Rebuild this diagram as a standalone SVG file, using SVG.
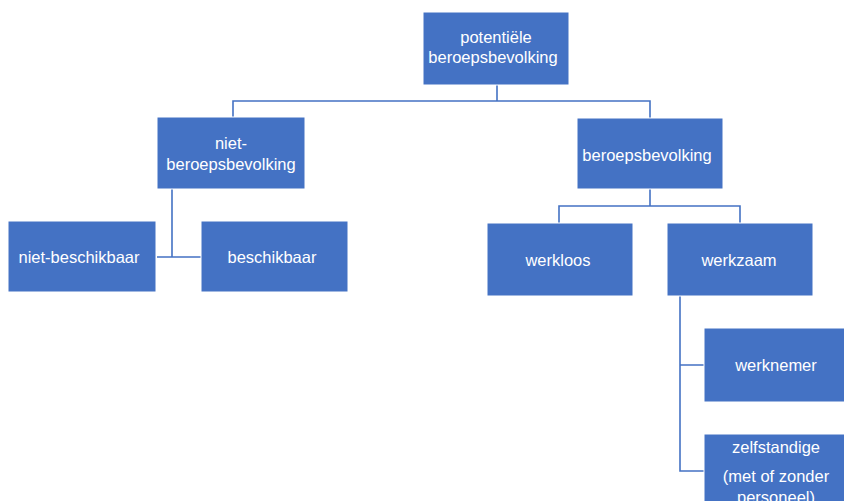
<svg xmlns="http://www.w3.org/2000/svg" width="844" height="501" viewBox="0 0 844 501">
<style>
.box{fill:#4472C4;stroke:#ffffff;stroke-width:1}
.t{font-family:"Liberation Sans",Arial,sans-serif;font-size:16.5px;fill:#ffffff;text-anchor:middle}
.c{fill:none;stroke:#4472C4;stroke-width:1.6}
</style>
<rect width="844" height="501" fill="#ffffff"/>
<g id="connectors">
<path class="c" d="M497,85 V101 M233,117 V101 H650 V118"/>
<path class="c" d="M172,189 V257 M157,257 H201"/>
<path class="c" d="M650,189 V206 M559,223 V206 H740 V223"/>
<path class="c" d="M680,296 V471 H704 M680,365 H704"/>
</g>
<g id="potentiele">
<rect class="box" x="423" y="12" width="146" height="73"/>
<text class="t" x="496" y="43">potentiële</text>
<text class="t" x="493" y="63">beroepsbevolking</text>
</g>
<g id="niet-beroepsbevolking">
<rect class="box" x="157" y="117" width="148" height="72"/>
<text class="t" x="231" y="149">niet-</text>
<text class="t" x="231" y="170">beroepsbevolking</text>
</g>
<g id="beroepsbevolking">
<rect class="box" x="577" y="118" width="146" height="71"/>
<text class="t" x="647" y="161">beroepsbevolking</text>
</g>
<g id="niet-beschikbaar">
<rect class="box" x="8" y="221" width="148" height="71"/>
<text class="t" x="79" y="263">niet-beschikbaar</text>
</g>
<g id="beschikbaar">
<rect class="box" x="201" y="221" width="147" height="71"/>
<text class="t" x="272" y="263">beschikbaar</text>
</g>
<g id="werkloos">
<rect class="box" x="487" y="223" width="146" height="73"/>
<text class="t" x="558" y="266">werkloos</text>
</g>
<g id="werkzaam">
<rect class="box" x="667" y="223" width="146" height="73"/>
<text class="t" x="739" y="266">werkzaam</text>
</g>
<g id="werknemer">
<rect class="box" x="704" y="328" width="146" height="74"/>
<text class="t" x="776" y="371">werknemer</text>
</g>
<g id="zelfstandige">
<rect class="box" x="704" y="434" width="146" height="74"/>
<text class="t" x="776" y="453">zelfstandige</text>
<text class="t" x="776" y="482">(met of zonder</text>
<text class="t" x="776" y="503">personeel)</text>
</g>
</svg>
